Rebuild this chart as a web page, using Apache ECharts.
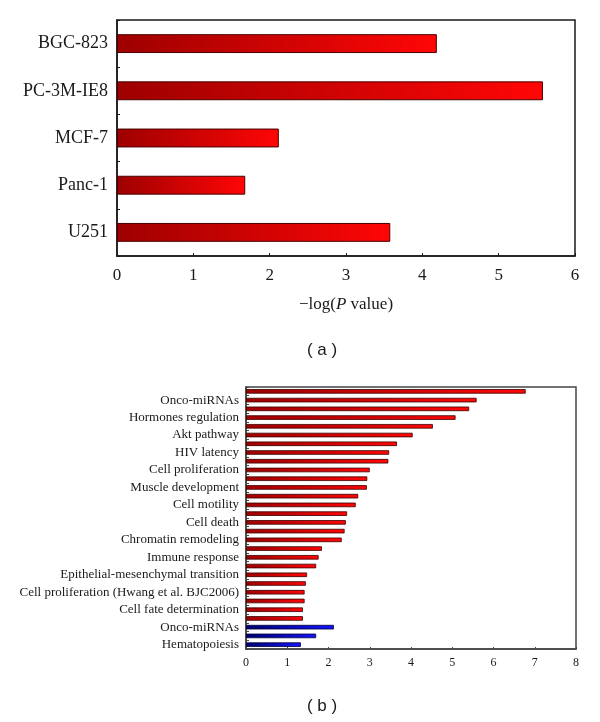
<!DOCTYPE html>
<html>
<head>
<meta charset="utf-8">
<script src="https://cdn.jsdelivr.net/npm/echarts@6/dist/echarts.min.js"></script>
<style>
html,body{margin:0;padding:0;background:#fff;}
#c{width:600px;height:722px;}
</style>
</head>
<body>
<div id="c"></div>
<script>
// ---- data: panel (a) ----
var cellLines = ['BGC-823', 'PC-3M-IE8', 'MCF-7', 'Panc-1', 'U251'];
var cellValues = [4.19, 5.58, 2.12, 1.68, 3.58];
var ticksA = [0, 1, 2, 3, 4, 5, 6];

// ---- data: panel (b) ----
var pathways = [
  '', 'Onco-miRNAs',
  '', 'Hormones regulation',
  '', 'Akt pathway',
  '', 'HIV latency',
  '', 'Cell proliferation',
  '', 'Muscle development',
  '', 'Cell motility',
  '', 'Cell death',
  '', 'Chromatin remodeling',
  '', 'Immune response',
  '', 'Epithelial-mesenchymal transition',
  '', 'Cell proliferation (Hwang et al. BJC2006)',
  '', 'Cell fate determination',
  '', 'Onco-miRNAs',
  '', 'Hematopoiesis'
];
var upValues = [6.78, 5.59, 5.41, 5.08, 4.53, 4.04, 3.66, 3.47, 3.45, 3.00,
                2.94, 2.93, 2.72, 2.66, 2.45, 2.42, 2.39, 2.32, 1.84, 1.76,
                1.70, 1.48, 1.45, 1.42, 1.42, 1.38, 1.38, null, null, null];
var downValues = [null, null, null, null, null, null, null, null, null, null,
                  null, null, null, null, null, null, null, null, null, null,
                  null, null, null, null, null, null, null, 2.13, 1.70, 1.33];
var ticksB = [0, 1, 2, 3, 4, 5, 6, 7, 8];
var panelLabels = ['( a )', '( b )'];

var serif = '"Liberation Serif", "DejaVu Serif", serif';
var sans = 'Arial, "Liberation Sans", sans-serif';
var redGrad = new echarts.graphic.LinearGradient(0, 0, 1, 0, [
  {offset: 0, color: '#9e0000'}, {offset: 1, color: '#ff0606'}
]);
var blueGrad = new echarts.graphic.LinearGradient(0, 0, 1, 0, [
  {offset: 0, color: '#00006e'}, {offset: 1, color: '#1414ff'}
]);

var chart = echarts.init(document.getElementById('c'), null, {renderer: 'canvas'});
chart.setOption({
  backgroundColor: '#fff',
  animation: false,
  grid: [
    {left: 117, right: 25, top: 20, height: 236, show: true, borderColor: '#1a1a1a', borderWidth: 1.5, containLabel: false},
    {left: 246, right: 24, top: 387, height: 262, show: true, borderColor: '#444', borderWidth: 1.5, containLabel: false}
  ],
  xAxis: [
    {
      gridIndex: 0, type: 'value', min: ticksA[0], max: ticksA[ticksA.length - 1], interval: 1,
      name: '\u2212log({i|P} value)', nameLocation: 'middle', nameGap: 40,
      nameTextStyle: {fontFamily: serif, fontSize: 17, color: '#1a1a1a',
        rich: {i: {fontFamily: serif, fontSize: 17, fontStyle: 'italic', color: '#1a1a1a'}}},
      axisLine: {show: true, lineStyle: {color: '#1a1a1a', width: 1.5}},
      axisTick: {show: true, inside: true, length: 3, lineStyle: {color: '#1a1a1a'}},
      axisLabel: {fontFamily: serif, fontSize: 17, color: '#1a1a1a', margin: 11},
      splitLine: {show: false}
    },
    {
      gridIndex: 1, type: 'value', min: ticksB[0], max: ticksB[ticksB.length - 1], interval: 1,
      axisLine: {show: true, lineStyle: {color: '#444', width: 1.5}},
      axisTick: {show: true, inside: true, length: 2, lineStyle: {color: '#444'}},
      axisLabel: {fontFamily: serif, fontSize: 12, color: '#1a1a1a', margin: 8},
      splitLine: {show: false}
    }
  ],
  yAxis: [
    {
      gridIndex: 0, type: 'category', data: cellLines, inverse: true,
      axisLine: {show: true, lineStyle: {color: '#1a1a1a', width: 1.5}},
      axisTick: {show: true, inside: true, length: 3, lineStyle: {color: '#1a1a1a'}},
      axisLabel: {fontFamily: serif, fontSize: 18, color: '#1a1a1a', margin: 9}
    },
    {
      gridIndex: 1, type: 'category', data: pathways, inverse: true,
      axisLine: {show: true, lineStyle: {color: '#444', width: 1.5}},
      axisTick: {show: true, inside: true, length: 3, interval: 0, lineStyle: {color: '#444'}},
      axisLabel: {fontFamily: serif, fontSize: 13, color: '#1a1a1a', margin: 7, interval: 0}
    }
  ],
  series: [
    {
      type: 'bar', xAxisIndex: 0, yAxisIndex: 0, data: cellValues, barWidth: '40%',
      itemStyle: {color: redGrad, borderColor: '#4a0000', borderWidth: 1}
    },
    {
      type: 'bar', xAxisIndex: 1, yAxisIndex: 1, data: upValues, barWidth: '52%', barGap: '-100%',
      itemStyle: {color: redGrad, borderColor: '#3a0000', borderWidth: 0.8}
    },
    {
      type: 'bar', xAxisIndex: 1, yAxisIndex: 1, data: downValues, barWidth: '52%', barGap: '-100%',
      itemStyle: {color: blueGrad, borderColor: '#00003a', borderWidth: 0.8}
    }
  ],
  graphic: [
    {type: 'text', x: 322, y: 350, style: {text: panelLabels[0], align: 'center', verticalAlign: 'middle',
      font: '17px ' + sans, fill: '#1a1a1a'}},
    {type: 'text', x: 322, y: 706, style: {text: panelLabels[1], align: 'center', verticalAlign: 'middle',
      font: '17px ' + sans, fill: '#1a1a1a'}}
  ]
});
</script>
</body>
</html>
